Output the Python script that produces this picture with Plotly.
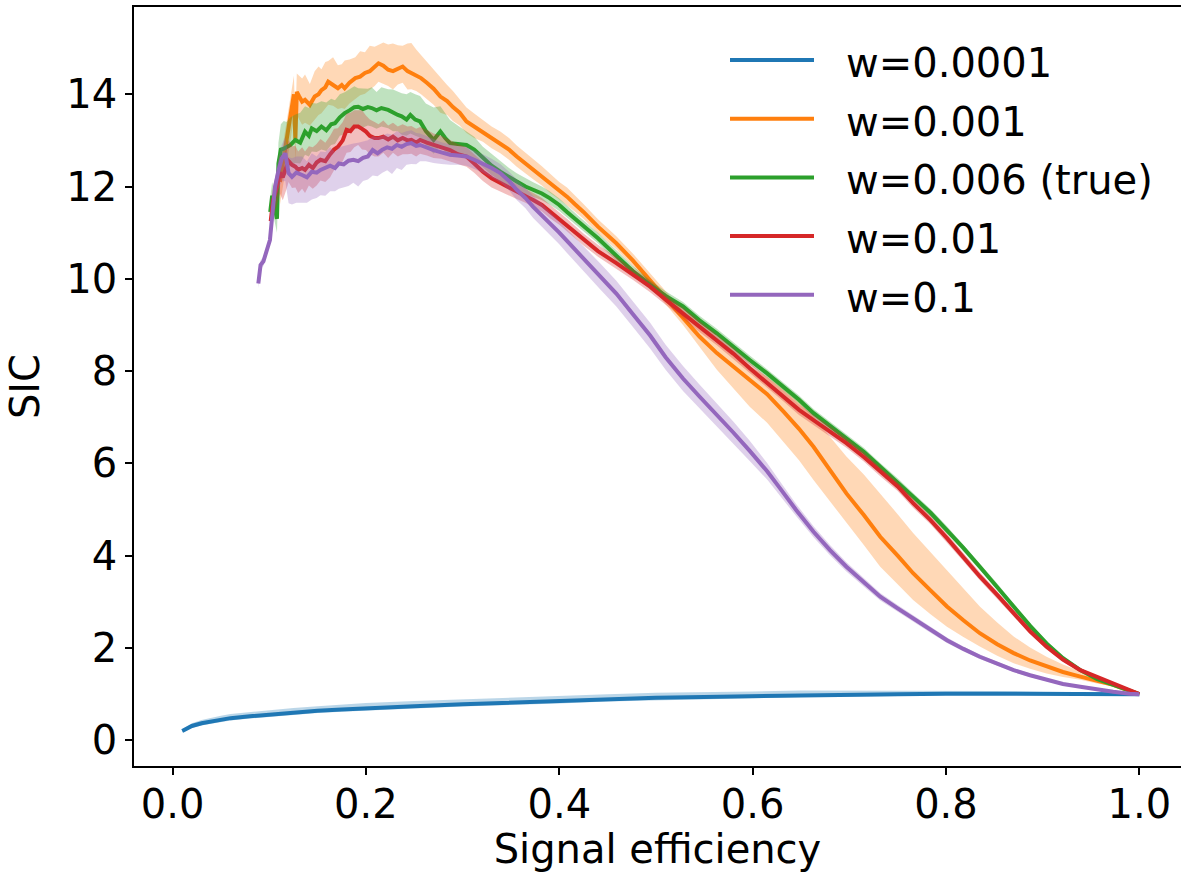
import plotly.graph_objects as go

# ---------------- data ----------------
labels = ["w=0.0001", "w=0.001", "w=0.006 (true)", "w=0.01", "w=0.1"]
colors = ["#1f77b4", "#ff7f0e", "#2ca02c", "#d62728", "#9467bd"]
fills = ["rgba(31,119,180,0.3)", "rgba(255,127,14,0.3)", "rgba(44,160,44,0.3)",
         "rgba(214,39,40,0.3)", "rgba(148,103,189,0.3)"]

# w=0.0001 (blue)
blue_x = [0.01, 0.015, 0.02, 0.03, 0.04, 0.05, 0.06, 0.08, 0.1, 0.125, 0.15, 0.175, 0.2, 0.25,
          0.3, 0.35, 0.4, 0.45, 0.5, 0.55, 0.6, 0.65, 0.7, 0.75, 0.8, 0.85, 0.9, 0.95, 1.0]
blue_y = [0.2, 0.26, 0.31, 0.37, 0.41, 0.45, 0.48, 0.52, 0.56, 0.6, 0.64, 0.67, 0.7, 0.74,
          0.78, 0.82, 0.85, 0.89, 0.92, 0.94, 0.96, 0.98, 0.99, 1.0, 1.01, 1.01, 1.01, 1.01, 1.0]
blue_up = [0.04, 0.05, 0.06, 0.07, 0.08, 0.08, 0.09, 0.09, 0.1, 0.1, 0.1, 0.11, 0.11, 0.11,
           0.11, 0.11, 0.11, 0.11, 0.11, 0.1, 0.1, 0.1, 0.09, 0.08, 0.07, 0.06, 0.04, 0.03, 0.0]
blue_dn = [0.03, 0.04, 0.04, 0.05, 0.05, 0.05, 0.05, 0.05, 0.05, 0.05, 0.05, 0.05, 0.05, 0.05,
           0.05, 0.05, 0.05, 0.05, 0.05, 0.05, 0.05, 0.04, 0.04, 0.04, 0.03, 0.03, 0.02, 0.01, 0.0]

# w=0.001 (orange)
orange_x = [0.111, 0.114, 0.118, 0.122, 0.1255, 0.127, 0.1285, 0.131, 0.134, 0.137, 0.142, 0.147,
            0.151, 0.154, 0.158, 0.161, 0.166, 0.171, 0.175, 0.178, 0.183, 0.189, 0.194, 0.199,
            0.204, 0.209, 0.213, 0.218, 0.223, 0.228, 0.233, 0.238, 0.243, 0.247, 0.252, 0.257,
            0.263, 0.27, 0.277, 0.284, 0.29, 0.297, 0.304, 0.312, 0.321, 0.33, 0.339, 0.348,
            0.356, 0.365, 0.373, 0.382, 0.39, 0.4, 0.408, 0.416, 0.425, 0.44, 0.459, 0.476,
            0.494, 0.51, 0.528, 0.545, 0.563, 0.58, 0.597, 0.615, 0.632, 0.648, 0.663, 0.68,
            0.697, 0.715, 0.732, 0.75, 0.766, 0.784, 0.801, 0.818, 0.835, 0.853, 0.87, 0.887,
            0.904, 0.921, 0.939, 0.956, 0.973, 0.99, 1.0]
orange_y = [12.1, 12.5, 13.0, 13.5, 14.0, 13.0, 14.05, 13.95, 13.84, 13.88, 13.77, 13.95,
            14.0, 14.09, 14.15, 14.27, 14.2, 14.13, 14.2, 14.13, 14.25, 14.35, 14.38, 14.46,
            14.5, 14.58, 14.67, 14.62, 14.53, 14.5, 14.56, 14.6, 14.5, 14.46, 14.42, 14.35,
            14.25, 14.12, 13.95, 13.85, 13.72, 13.6, 13.41, 13.3, 13.19, 13.05, 12.94, 12.8,
            12.65, 12.5, 12.36, 12.22, 12.07, 11.9, 11.78, 11.62, 11.45, 11.13, 10.77, 10.4,
            9.98, 9.58, 9.15, 8.75, 8.39, 8.1, 7.81, 7.5, 7.12, 6.75, 6.36, 5.85,
            5.35, 4.88, 4.41, 4.0, 3.62, 3.25, 2.9, 2.6, 2.32, 2.08, 1.89, 1.73,
            1.6, 1.48, 1.38, 1.28, 1.2, 1.07, 1.0]
orange_up = [0.4, 0.4, 0.4, 0.4, 0.4, 0.4, 0.4, 0.45, 0.5, 0.55, 0.45, 0.55,
             0.6, 0.45, 0.55, 0.45, 0.6, 0.5, 0.45, 0.6, 0.5, 0.45, 0.55, 0.45,
             0.55, 0.45, 0.4, 0.5, 0.55, 0.6, 0.5, 0.45, 0.6, 0.65, 0.55, 0.5,
             0.45, 0.4, 0.4, 0.35, 0.35, 0.3, 0.3, 0.28, 0.25, 0.25, 0.25, 0.25,
             0.24, 0.24, 0.23, 0.22, 0.22, 0.2, 0.2, 0.18, 0.17, 0.16, 0.15, 0.15,
             0.14, 0.14, 0.15, 0.17, 0.21, 0.25, 0.29, 0.38, 0.5, 0.58, 0.65, 0.73,
             0.8, 0.88, 0.94, 0.9, 0.87, 0.83, 0.79, 0.7, 0.58, 0.47, 0.36, 0.28,
             0.21, 0.16, 0.11, 0.08, 0.05, 0.02, 0.0]
orange_dn = [0.5, 0.5, 0.5, 0.5, 0.5, 0.45, 0.5, 0.5, 0.5, 0.5, 0.45, 0.5,
             0.45, 0.5, 0.45, 0.5, 0.45, 0.45, 0.5, 0.45, 0.45, 0.45, 0.4, 0.45,
             0.4, 0.4, 0.4, 0.4, 0.35, 0.4, 0.35, 0.35, 0.4, 0.35, 0.35, 0.35,
             0.35, 0.35, 0.35, 0.3, 0.3, 0.28, 0.25, 0.25, 0.22, 0.22, 0.22, 0.22,
             0.22, 0.22, 0.2, 0.2, 0.2, 0.18, 0.18, 0.16, 0.15, 0.14, 0.13, 0.13,
             0.12, 0.13, 0.15, 0.22, 0.36, 0.47, 0.58, 0.62, 0.65, 0.68, 0.72, 0.68,
             0.64, 0.65, 0.65, 0.62, 0.58, 0.52, 0.44, 0.36, 0.29, 0.25, 0.22, 0.18,
             0.15, 0.11, 0.07, 0.05, 0.03, 0.01, 0.0]

# w=0.006 (true) (green)
green_x = [0.101, 0.103, 0.106, 0.108, 0.1095, 0.112, 0.115, 0.118, 0.122, 0.127, 0.132, 0.137,
           0.141, 0.144, 0.149, 0.154, 0.159, 0.164, 0.168, 0.173, 0.178, 0.183, 0.188, 0.192,
           0.197, 0.202, 0.206, 0.211, 0.216, 0.223, 0.228, 0.233, 0.237, 0.242, 0.246, 0.251,
           0.256, 0.262, 0.27, 0.277, 0.282, 0.287, 0.295, 0.304, 0.312, 0.321, 0.33, 0.339,
           0.348, 0.356, 0.365, 0.373, 0.382, 0.39, 0.4, 0.408, 0.421, 0.44, 0.459, 0.476,
           0.494, 0.51, 0.528, 0.545, 0.563, 0.58, 0.597, 0.615, 0.632, 0.648, 0.663, 0.68,
           0.697, 0.715, 0.732, 0.75, 0.766, 0.784, 0.801, 0.818, 0.835, 0.853, 0.87, 0.887,
           0.904, 0.921, 0.939, 0.956, 0.973, 0.99, 1.0]
green_y = [11.45, 11.8, 11.5, 11.3, 12.5, 12.8, 12.82, 12.85, 12.9, 13.01, 12.95, 13.19,
           13.1, 13.26, 13.2, 13.3, 13.22, 13.35, 13.37, 13.5, 13.59, 13.65, 13.72, 13.73,
           13.68, 13.72, 13.7, 13.65, 13.7, 13.66, 13.6, 13.55, 13.52, 13.45, 13.55, 13.45,
           13.41, 13.2, 13.01, 13.19, 13.05, 12.94, 12.92, 12.9, 12.8, 12.61, 12.45, 12.32,
           12.2, 12.11, 12.0, 11.93, 11.85, 11.75, 11.6, 11.45, 11.22, 10.88, 10.5, 10.17,
           9.87, 9.63, 9.4, 9.1, 8.82, 8.52, 8.24, 7.95, 7.66, 7.38, 7.09, 6.82,
           6.55, 6.25, 5.93, 5.6, 5.28, 4.93, 4.56, 4.17, 3.76, 3.33, 2.9, 2.48,
           2.1, 1.78, 1.52, 1.33, 1.2, 1.07, 1.0]
green_up = [0.3, 0.3, 0.3, 0.35, 0.45, 0.55, 0.6, 0.55, 0.6, 0.55, 0.65, 0.55,
            0.6, 0.55, 0.6, 0.55, 0.6, 0.55, 0.5, 0.5, 0.45, 0.45, 0.45, 0.4,
            0.45, 0.4, 0.45, 0.4, 0.45, 0.45, 0.5, 0.5, 0.5, 0.55, 0.5, 0.55,
            0.55, 0.6, 0.7, 0.55, 0.55, 0.5, 0.4, 0.3, 0.28, 0.25, 0.25, 0.22,
            0.2, 0.18, 0.18, 0.16, 0.15, 0.15, 0.14, 0.13, 0.12, 0.12, 0.11, 0.11,
            0.1, 0.1, 0.1, 0.1, 0.1, 0.1, 0.1, 0.09, 0.09, 0.09, 0.09, 0.09,
            0.09, 0.09, 0.08, 0.08, 0.08, 0.08, 0.08, 0.07, 0.07, 0.07, 0.06, 0.06,
            0.05, 0.05, 0.04, 0.03, 0.02, 0.01, 0.0]
green_dn = [0.3, 0.3, 0.3, 0.3, 0.4, 0.5, 0.5, 0.5, 0.45, 0.5, 0.45, 0.5,
            0.45, 0.5, 0.45, 0.5, 0.45, 0.45, 0.45, 0.4, 0.45, 0.4, 0.4, 0.45,
            0.4, 0.4, 0.4, 0.4, 0.4, 0.4, 0.4, 0.35, 0.4, 0.35, 0.4, 0.35,
            0.35, 0.3, 0.3, 0.3, 0.3, 0.3, 0.25, 0.25, 0.22, 0.2, 0.2, 0.2,
            0.18, 0.17, 0.16, 0.15, 0.15, 0.14, 0.13, 0.12, 0.12, 0.11, 0.11, 0.1,
            0.1, 0.1, 0.1, 0.1, 0.1, 0.1, 0.09, 0.09, 0.09, 0.09, 0.09, 0.09,
            0.09, 0.08, 0.08, 0.08, 0.08, 0.08, 0.07, 0.07, 0.07, 0.06, 0.06, 0.05,
            0.05, 0.04, 0.04, 0.03, 0.02, 0.01, 0.0]

# w=0.01 (red)
red_x = [0.1015, 0.104, 0.108, 0.111, 0.114, 0.118, 0.12, 0.1235, 0.127, 0.13, 0.134, 0.137,
         0.141, 0.145, 0.149, 0.153, 0.158, 0.163, 0.167, 0.171, 0.176, 0.18, 0.184, 0.188,
         0.192, 0.196, 0.2, 0.204, 0.209, 0.213, 0.218, 0.223, 0.228, 0.233, 0.238, 0.243,
         0.247, 0.252, 0.256, 0.263, 0.27, 0.278, 0.287, 0.295, 0.304, 0.312, 0.321, 0.33,
         0.339, 0.348, 0.356, 0.365, 0.373, 0.382, 0.39, 0.4, 0.408, 0.425, 0.44, 0.459,
         0.476, 0.494, 0.51, 0.528, 0.545, 0.563, 0.58, 0.597, 0.615, 0.632, 0.648, 0.663,
         0.68, 0.697, 0.715, 0.732, 0.75, 0.766, 0.784, 0.801, 0.818, 0.835, 0.853, 0.87,
         0.887, 0.904, 0.921, 0.939, 0.956, 0.973, 0.99, 1.0]
red_y = [11.25, 11.7, 12.0, 12.3, 12.2, 12.45, 12.55, 12.47, 12.43, 12.36, 12.4, 12.36,
         12.47, 12.4, 12.52, 12.58, 12.55, 12.7, 12.8, 12.86, 13.0, 13.23, 13.2, 13.3,
         13.3, 13.25, 13.19, 13.1, 13.05, 13.05, 13.08, 13.02, 13.08, 13.0, 13.05, 13.0,
         13.01, 12.95, 13.01, 12.95, 12.9, 12.85, 12.79, 12.7, 12.65, 12.5, 12.32, 12.18,
         12.07, 11.98, 11.89, 11.8, 11.71, 11.6, 11.46, 11.3, 11.15, 10.84, 10.6, 10.34,
         10.1, 9.83, 9.55, 9.25, 8.97, 8.68, 8.38, 8.06, 7.75, 7.45, 7.16, 6.94,
         6.7, 6.44, 6.14, 5.82, 5.5, 5.14, 4.77, 4.38, 3.97, 3.55, 3.15, 2.75,
         2.36, 2.03, 1.75, 1.52, 1.37, 1.24, 1.09, 1.0]
red_up = [0.3, 0.3, 0.35, 0.4, 0.4, 0.4, 0.45, 0.4, 0.45, 0.4, 0.45, 0.4,
          0.4, 0.45, 0.4, 0.45, 0.4, 0.4, 0.45, 0.4, 0.4, 0.35, 0.4, 0.35,
          0.35, 0.4, 0.35, 0.35, 0.35, 0.3, 0.35, 0.3, 0.3, 0.3, 0.3, 0.3,
          0.3, 0.3, 0.28, 0.28, 0.25, 0.25, 0.22, 0.22, 0.2, 0.2, 0.2, 0.18,
          0.18, 0.17, 0.16, 0.16, 0.15, 0.15, 0.15, 0.15, 0.15, 0.14, 0.14, 0.13,
          0.13, 0.13, 0.12, 0.12, 0.12, 0.12, 0.12, 0.12, 0.12, 0.12, 0.12, 0.11,
          0.11, 0.11, 0.11, 0.1, 0.1, 0.1, 0.1, 0.1, 0.09, 0.09, 0.08, 0.08,
          0.07, 0.06, 0.05, 0.04, 0.03, 0.02, 0.01, 0.0]
red_dn = [0.3, 0.35, 0.4, 0.45, 0.5, 0.5, 0.45, 0.5, 0.45, 0.5, 0.45, 0.5,
          0.45, 0.45, 0.5, 0.45, 0.45, 0.5, 0.45, 0.45, 0.45, 0.5, 0.45, 0.45,
          0.4, 0.45, 0.4, 0.4, 0.4, 0.4, 0.35, 0.4, 0.35, 0.35, 0.35, 0.3,
          0.3, 0.3, 0.3, 0.28, 0.28, 0.25, 0.25, 0.22, 0.22, 0.2, 0.2, 0.2,
          0.18, 0.17, 0.16, 0.15, 0.15, 0.14, 0.14, 0.13, 0.13, 0.12, 0.12, 0.12,
          0.12, 0.12, 0.12, 0.12, 0.12, 0.12, 0.12, 0.12, 0.11, 0.11, 0.11, 0.11,
          0.11, 0.1, 0.1, 0.1, 0.1, 0.1, 0.09, 0.09, 0.09, 0.08, 0.08, 0.07,
          0.06, 0.05, 0.05, 0.04, 0.03, 0.02, 0.01, 0.0]

# w=0.1 (purple)
purple_x = [0.0887, 0.091, 0.094, 0.097, 0.1007, 0.103, 0.106, 0.1097, 0.113, 0.1166, 0.12, 0.1235,
            0.128, 0.134, 0.139, 0.144, 0.149, 0.153, 0.158, 0.163, 0.168, 0.172, 0.177, 0.182,
            0.187, 0.192, 0.197, 0.202, 0.207, 0.212, 0.217, 0.222, 0.227, 0.232, 0.237, 0.242,
            0.247, 0.252, 0.256, 0.262, 0.27, 0.278, 0.287, 0.295, 0.304, 0.312, 0.321, 0.33,
            0.339, 0.348, 0.356, 0.365, 0.373, 0.382, 0.39, 0.4, 0.408, 0.418, 0.425, 0.442,
            0.459, 0.476, 0.494, 0.51, 0.528, 0.545, 0.563, 0.58, 0.597, 0.615, 0.628, 0.645,
            0.663, 0.68, 0.697, 0.715, 0.732, 0.75, 0.766, 0.784, 0.801, 0.818, 0.835, 0.853,
            0.87, 0.887, 0.904, 0.921, 0.939, 0.956, 0.973, 0.99, 1.0]
purple_y = [9.9, 10.3, 10.38, 10.6, 10.84, 11.35, 12.0, 12.36, 12.61, 12.72, 12.29, 12.21,
            12.3, 12.25, 12.2, 12.32, 12.3, 12.36, 12.4, 12.45, 12.4, 12.5, 12.48, 12.56,
            12.58, 12.55, 12.62, 12.65, 12.79, 12.72, 12.8, 12.85, 12.82, 12.9, 12.86, 12.92,
            12.94, 12.88, 12.9, 12.85, 12.79, 12.74, 12.69, 12.67, 12.65, 12.58, 12.5, 12.4,
            12.29, 12.12, 11.93, 11.75, 11.56, 11.38, 11.2, 11.0, 10.82, 10.6, 10.44, 10.06,
            9.68, 9.24, 8.77, 8.3, 7.84, 7.45, 7.06, 6.67, 6.27, 5.83, 5.47, 4.99,
            4.52, 4.12, 3.76, 3.42, 3.11, 2.86, 2.64, 2.39, 2.17, 1.98, 1.81, 1.66,
            1.52, 1.41, 1.31, 1.22, 1.16, 1.1, 1.05, 1.01, 1.0]
purple_up = [0.1, 0.1, 0.1, 0.1, 0.1, 0.15, 0.2, 0.25, 0.3, 0.35, 0.35, 0.4,
             0.35, 0.4, 0.35, 0.4, 0.35, 0.4, 0.35, 0.4, 0.35, 0.35, 0.4, 0.35,
             0.35, 0.4, 0.35, 0.35, 0.3, 0.35, 0.3, 0.3, 0.3, 0.3, 0.3, 0.28,
             0.28, 0.28, 0.25, 0.25, 0.25, 0.22, 0.22, 0.2, 0.2, 0.2, 0.2, 0.2,
             0.2, 0.2, 0.22, 0.22, 0.24, 0.25, 0.25, 0.25, 0.26, 0.27, 0.28, 0.28,
             0.28, 0.28, 0.28, 0.27, 0.27, 0.26, 0.25, 0.24, 0.22, 0.18, 0.15, 0.13,
             0.12, 0.11, 0.1, 0.09, 0.08, 0.07, 0.07, 0.06, 0.06, 0.05, 0.05, 0.04,
             0.04, 0.04, 0.03, 0.03, 0.02, 0.02, 0.01, 0.01, 0.0]
purple_dn = [0.1, 0.1, 0.1, 0.1, 0.1, 0.2, 0.3, 0.4, 0.5, 0.6, 0.65, 0.6,
             0.65, 0.6, 0.55, 0.6, 0.55, 0.55, 0.6, 0.55, 0.5, 0.55, 0.5, 0.55,
             0.5, 0.55, 0.5, 0.5, 0.55, 0.5, 0.5, 0.5, 0.55, 0.5, 0.5, 0.45,
             0.45, 0.4, 0.35, 0.3, 0.28, 0.25, 0.22, 0.2, 0.2, 0.2, 0.2, 0.2,
             0.2, 0.2, 0.22, 0.22, 0.24, 0.25, 0.25, 0.25, 0.26, 0.27, 0.28, 0.28,
             0.28, 0.28, 0.28, 0.27, 0.27, 0.26, 0.25, 0.24, 0.22, 0.18, 0.15, 0.13,
             0.12, 0.11, 0.1, 0.09, 0.08, 0.07, 0.07, 0.06, 0.06, 0.05, 0.05, 0.04,
             0.04, 0.04, 0.03, 0.03, 0.02, 0.02, 0.01, 0.01, 0.0]

x_ticks = [0.0, 0.2, 0.4, 0.6, 0.8, 1.0]
y_ticks = [0, 2, 4, 6, 8, 10, 12, 14]

series = [
    (blue_x, blue_y, blue_up, blue_dn),
    (orange_x, orange_y, orange_up, orange_dn),
    (green_x, green_y, green_up, green_dn),
    (red_x, red_y, red_up, red_dn),
    (purple_x, purple_y, purple_up, purple_dn),
]

FONT = "DejaVu Sans"
LW = 4.0
fig = go.Figure()

for i, (xs, ys, up, dn) in enumerate(series):
    hi = [y + u for y, u in zip(ys, up)]
    lo = [y - d for y, d in zip(ys, dn)]
    fig.add_trace(go.Scatter(
        x=list(xs) + list(xs[::-1]), y=hi + lo[::-1],
        fill="toself", fillcolor=fills[i], line=dict(width=0),
        mode="lines", showlegend=False, hoverinfo="skip"))
    fig.add_trace(go.Scatter(
        x=xs, y=ys, mode="lines", name=labels[i],
        line=dict(color=colors[i], width=LW), showlegend=False))

# manual legend (matplotlib style, long handles)
W, H = 1181, 872
ML, MR, MT, MB = 134, 0, 7, 106
pw, ph = W - ML - MR, H - MT - MB
def px2paper(px, py):
    return (px - ML) / pw, (H - MB - py) / ph

leg_rows = [60, 118.7, 177.4, 236.1, 294.8]
for i, lab in enumerate(labels):
    x0, y0 = px2paper(730, leg_rows[i])
    x1, _ = px2paper(814, leg_rows[i])
    fig.add_shape(type="line", xref="paper", yref="paper", x0=x0, x1=x1, y0=y0, y1=y0,
                  line=dict(color=colors[i], width=LW))
    tx, ty = px2paper(844, leg_rows[i] + 3)
    fig.add_annotation(xref="paper", yref="paper", x=tx, y=ty, text=lab, showarrow=False,
                       xanchor="left", yanchor="middle",
                       font=dict(family=FONT, size=40, color="black"))

fig.update_layout(
    width=W, height=H,
    margin=dict(l=ML, r=MR, t=MT, b=MB),
    plot_bgcolor="white", paper_bgcolor="white",
    font=dict(family=FONT, size=40, color="black"),
    showlegend=False,
)
fig.update_xaxes(
    range=[-0.0399, 1.0431], tickvals=x_ticks, ticktext=[f"{v:.1f}" for v in x_ticks],
    showline=True, linecolor="black", linewidth=1.6, mirror=True,
    ticks="outside", ticklen=7, tickwidth=1.6, tickcolor="black",
    ticklabelstandoff=-5,
    showgrid=False, zeroline=False,
    title=dict(text="Signal efficiency", standoff=6, font=dict(family=FONT, size=40)),
    automargin=False,
)
fig.update_yaxes(
    range=[-0.557, 15.89], tickvals=y_ticks, ticktext=[str(v) for v in y_ticks],
    showline=True, linecolor="black", linewidth=1.6, mirror=False,
    ticks="outside", ticklen=7, tickwidth=1.6, tickcolor="black",
    showgrid=False, zeroline=False,
    title=dict(text="SIC", standoff=14, font=dict(family=FONT, size=40)),
    automargin=False,
)

fig.write_html("out.html")
